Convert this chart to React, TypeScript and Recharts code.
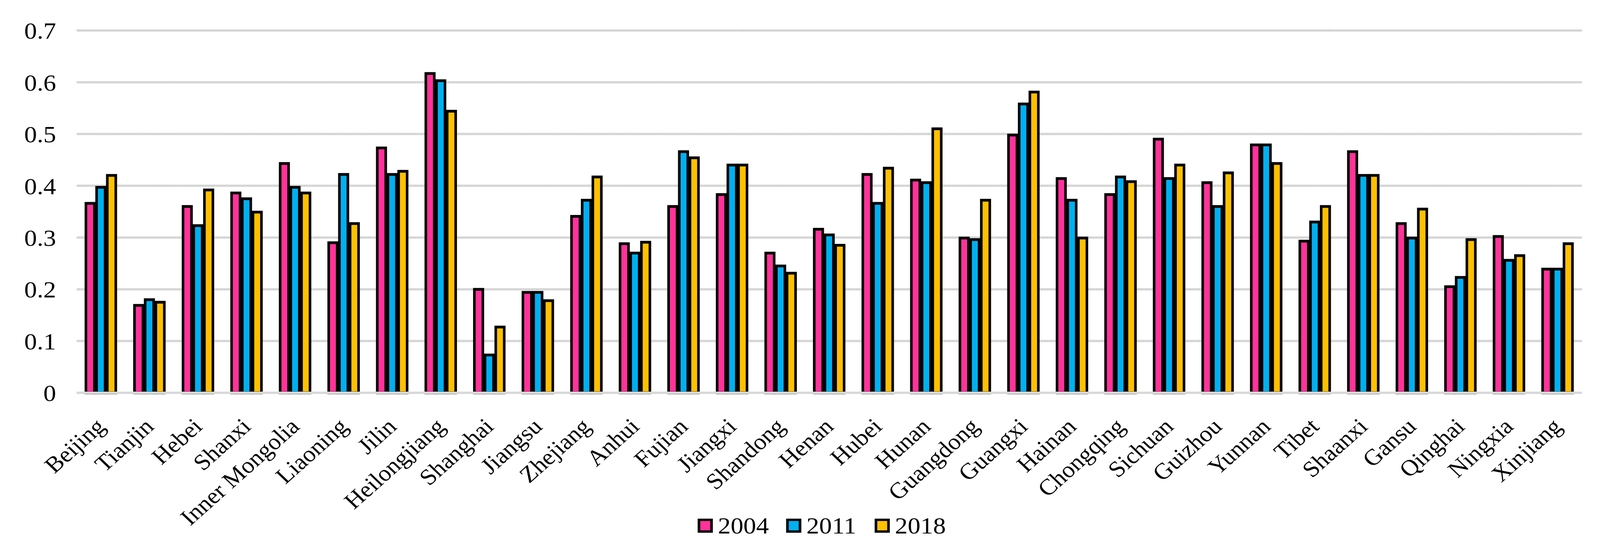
import React from 'react'
import {
  Bar,
  BarChart,
  CartesianGrid,
  Legend,
  ReferenceLine,
  XAxis,
  YAxis
} from 'recharts'

const provinces = [
  'Beijing', 'Tianjin', 'Hebei', 'Shanxi', 'Inner Mongolia', 'Liaoning', 'Jilin',
  'Heilongjiang', 'Shanghai', 'Jiangsu', 'Zhejiang', 'Anhui', 'Fujian', 'Jiangxi',
  'Shandong', 'Henan', 'Hubei', 'Hunan', 'Guangdong', 'Guangxi', 'Hainan',
  'Chongqing', 'Sichuan', 'Guizhou', 'Yunnan', 'Tibet', 'Shaanxi', 'Gansu',
  'Qinghai', 'Ningxia', 'Xinjiang'
]

const v2004 = [
  0.366, 0.169, 0.360, 0.386, 0.443, 0.290, 0.473, 0.617, 0.200, 0.194, 0.341,
  0.288, 0.360, 0.383, 0.270, 0.316, 0.422, 0.411, 0.299, 0.498, 0.414, 0.383,
  0.490, 0.406, 0.479, 0.293, 0.466, 0.327, 0.205, 0.302, 0.239
]
const v2011 = [
  0.397, 0.180, 0.323, 0.375, 0.397, 0.422, 0.422, 0.603, 0.073, 0.194, 0.372,
  0.270, 0.466, 0.440, 0.245, 0.305, 0.366, 0.406, 0.296, 0.558, 0.372, 0.417,
  0.414, 0.360, 0.479, 0.330, 0.420, 0.299, 0.223, 0.256, 0.239
]
const v2018 = [
  0.420, 0.175, 0.392, 0.349, 0.386, 0.327, 0.428, 0.544, 0.127, 0.178, 0.417,
  0.291, 0.454, 0.440, 0.231, 0.285, 0.434, 0.510, 0.372, 0.581, 0.299, 0.408,
  0.440, 0.425, 0.443, 0.360, 0.420, 0.355, 0.296, 0.265, 0.288
]

const yTicks = [0, 0.1, 0.2, 0.3, 0.4, 0.5, 0.6, 0.7]

const series = [
  { key: 'y2004', name: '2004', color: '#FF3399' },
  { key: 'y2011', name: '2011', color: '#00B0F0' },
  { key: 'y2018', name: '2018', color: '#FFC000' }
]

const data = provinces.map((name, i) => ({
  name,
  y2004: v2004[i],
  y2011: v2011[i],
  y2018: v2018[i]
}))

// layout is drawn in the reference's 4339px space, then squeezed to the viewport width
const W = 4339
const H = 1420
const FONT = '"Liberation Serif", "Times New Roman", serif'
const STRETCH = 1.15

const XTick = (props: any) => {
  const { x, y, payload } = props
  return (
    <g transform={`translate(${x + 15},${y + 90}) scale(${STRETCH},1) rotate(-44)`}>
      <text x={0} y={0} textAnchor="end" fontFamily={FONT} fontSize={58} fill="#000">
        {payload.value}
      </text>
    </g>
  )
}

const YTick = (props: any) => {
  const { x, y, payload } = props
  return (
    <g transform={`translate(${x},${y}) scale(${STRETCH},1)`}>
      <text x={0} y={0} dy="0.355em" textAnchor="end" fontFamily={FONT} fontSize={60} fill="#000">
        {String(payload.value)}
      </text>
    </g>
  )
}

const renderLegend = () => (
  <div style={{ display: 'flex', alignItems: 'center', height: 60 }}>
    {series.map(s => (
      <div key={s.key} style={{ display: 'flex', alignItems: 'center', marginRight: 47 }}>
        <div
          style={{
            width: 27,
            height: 24,
            borderStyle: 'solid',
            borderColor: '#000',
            borderWidth: '6px 7px',
            background: s.color
          }}
        />
        <span
          style={{
            display: 'inline-block',
            marginLeft: 14,
            width: 138,
            fontFamily: FONT,
            fontSize: 60,
            lineHeight: '60px',
            color: '#000',
            transform: `scaleX(${STRETCH})`,
            transformOrigin: 'left center'
          }}
        >
          {s.name}
        </span>
      </div>
    ))}
  </div>
)

export default function App() {
  const vw = typeof window !== 'undefined' ? window.innerWidth : W
  const sx = Math.min(1, vw / W)
  return (
    <div
      style={{
        position: 'absolute',
        left: 0,
        top: 0,
        width: W,
        height: H,
        background: '#fff',
        transform: `scaleX(${sx})`,
        transformOrigin: '0 0'
      }}
    >
      <BarChart
        width={W}
        height={H}
        data={data}
        margin={{ top: 78, right: 49, left: 0, bottom: 0 }}
        barSize={23}
        barGap={6}
      >
        <CartesianGrid vertical={false} stroke="#D9D9D9" strokeWidth={6} />
        <CartesianGrid vertical={false} stroke="#C4C4C4" strokeWidth={2} strokeDasharray="2 5" />
        <XAxis
          dataKey="name"
          interval={0}
          axisLine={false}
          tickLine={false}
          tickSize={0}
          tickMargin={0}
          height={355}
          tick={<XTick />}
        />
        <YAxis
          domain={[0, 0.7]}
          ticks={yTicks}
          width={208}
          axisLine={false}
          tickLine={false}
          tickSize={0}
          tickMargin={56}
          tick={<YTick />}
        />
        <Legend
          content={renderLegend}
          wrapperStyle={{ left: 1892, top: 1315, width: 800, height: 60 }}
        />
        {series.map(s => (
          <Bar
            key={s.key}
            dataKey={s.key}
            name={s.name}
            fill={s.color}
            stroke="#000"
            strokeWidth={7}
            isAnimationActive={false}
          />
        ))}
        <ReferenceLine y={0} stroke="#D9D9D9" strokeWidth={6} />
      </BarChart>
    </div>
  )
}
